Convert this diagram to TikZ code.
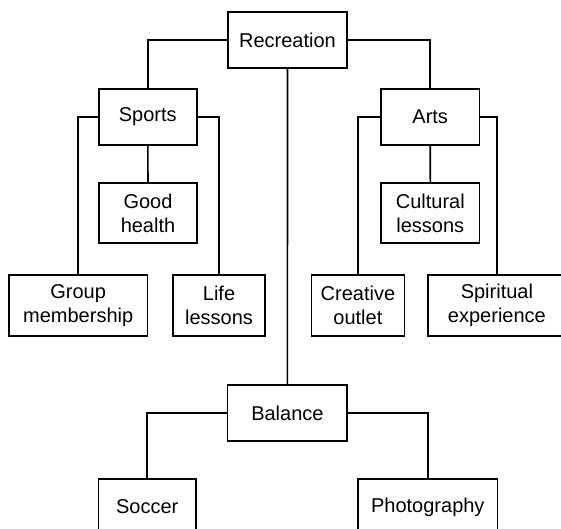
\documentclass[tikz,border=0pt]{standalone}
\usepackage{fontspec}
\setmainfont{Liberation Sans}
\begin{document}
\begin{tikzpicture}[x=1pt,y=-1pt,
  box/.style={draw, line width=1.5pt, inner sep=0pt, align=center,
    font=\fontsize{20}{24}\selectfont, minimum height=56pt},
  tall/.style={minimum height=60pt},
  taller/.style={minimum height=61pt},
  link/.style={line width=1.6pt}]
\useasboundingbox (0,0) rectangle (561,528);
\clip (0,0) rectangle (561,528);
% nodes
\node[box, minimum width=119pt] (rec) at (287.5,40) {Recreation};
\node[box, minimum width=98pt] (sports) at (147.8,117) {Sports};
\node[box, minimum width=98.5pt] (arts) at (430.2,117) {Arts};
\node[box, tall, minimum width=98pt] (good) at (148,213) {Good\\health};
\node[box, tall, minimum width=98.5pt] (cult) at (430.3,213) {Cultural\\lessons};
\node[box, taller, minimum width=138.6pt] (group) at (78.2,305.5) {Group\\membership};
\node[box, taller, minimum width=92pt] (life) at (219,305.5) {Life\\lessons};
\node[box, taller, minimum width=93pt] (creative) at (357.9,305.5) {Creative\\outlet};
\node[box, taller, minimum width=138.3pt] (spirit) at (496.9,305.5) {Spiritual\\experience};
\node[box, minimum width=119.6pt] (balance) at (287.4,413) {Balance};
\node[box, minimum width=97.6pt] (soccer) at (147.2,507) {Soccer};
\node[box, minimum width=139.6pt] (photo) at (427.8,507) {Photography};
% connectors
\draw[link] (rec.west) -| (sports.north);
\draw[link] (rec.east) -| (arts.north);
\draw[link] (rec.south) -- (balance.north);
\draw[link] (sports.west) -| (group.north);
\draw[link] (sports.east) -| (life.north);
\draw[link] (sports.south) -- (good.north);
\draw[link] (arts.west) -| (creative.north);
\draw[link] (arts.east) -| (spirit.north);
\draw[link] (arts.south) -- (cult.north);
\draw[link] (balance.west) -| (soccer.north);
\draw[link] (balance.east) -| (photo.north);
\end{tikzpicture}
\end{document}
